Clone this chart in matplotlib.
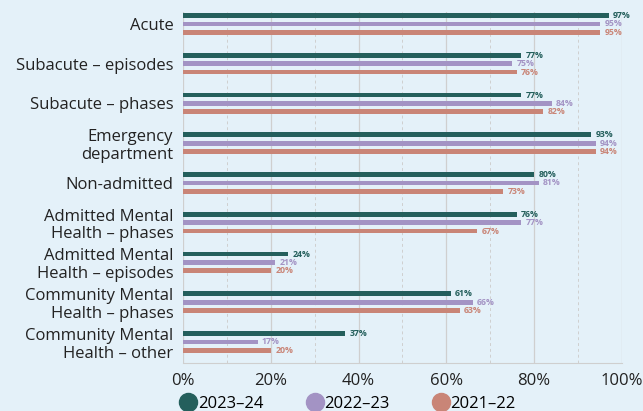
import matplotlib.pyplot as plt
import numpy as np

categories = ["Acute", "Subacute – episodes", "Subacute – phases",
              "Emergency\ndepartment", "Non-admitted",
              "Admitted Mental\nHealth – phases", "Admitted Mental\nHealth – episodes",
              "Community Mental\nHealth – phases", "Community Mental\nHealth – other"]
years = ["2023–24", "2022–23", "2021–22"]
v_2324 = [97, 77, 77, 93, 80, 76, 24, 61, 37]
v_2223 = [95, 75, 84, 94, 81, 77, 21, 66, 17]
v_2122 = [95, 76, 82, 94, 73, 67, 20, 63, 20]
colors = ["#245f5c", "#a393c4", "#c98577"]

bg = "#e4f1f9"
plt.rcParams['font.family'] = ['Open Sans', 'DejaVu Sans']

fig = plt.figure(figsize=(6.43, 4.11), dpi=100, facecolor=bg)
ax = fig.add_axes([0.2846, 0.1168, 0.6827, 0.854])
ax.set_facecolor(bg)

y = np.arange(len(categories))
offsets = [-0.21, 0, 0.21]
for vals, off, c, lab in zip([v_2324, v_2223, v_2122], offsets, colors, years):
    ax.barh(y + off, vals, height=0.12, color=c, label=lab, zorder=3)
    for yi, v in zip(y, vals):
        ax.text(v + 1.0, yi + off, f"{v}%", color=c, fontsize=6.3,
                fontweight='bold', va='center', ha='left', zorder=4)

ax.set_xlim(0, 100)
ax.set_ylim(8.53, -0.3)
ax.set_yticks(y)
ax.set_yticklabels(categories, fontsize=12, color="#222222", linespacing=1.15)
ax.set_xticks(np.arange(0, 101, 20))
ax.set_xticklabels([f"{t}%" for t in range(0, 101, 20)], fontsize=12, color="#222222")
ax.set_xticks(np.arange(10, 100, 20), minor=True)
ax.tick_params(axis='y', length=0, pad=7)
ax.tick_params(axis='x', length=0, pad=7)
ax.tick_params(axis='x', which='minor', length=0)
ax.grid(axis='x', which='major', color="#cfcfcf", linewidth=0.9, zorder=0)
ax.grid(axis='x', which='minor', color="#cfcfcf", linewidth=0.7, linestyle=(0, (3, 3)), zorder=0)
for s in ['top', 'right', 'left']:
    ax.spines[s].set_visible(False)
ax.spines['bottom'].set_color("#cfcfcf")

handles = [plt.Line2D([], [], marker='o', linestyle='', markersize=13, color=c) for c in colors]
fig.legend(handles, years, loc='lower left', bbox_to_anchor=(0.262, -0.03), ncol=3,
           frameon=False, fontsize=12, handletextpad=0.05, columnspacing=2.6,
           handlelength=1.0, borderpad=0.2)

fig.savefig("out.png", dpi=100, facecolor=bg)
